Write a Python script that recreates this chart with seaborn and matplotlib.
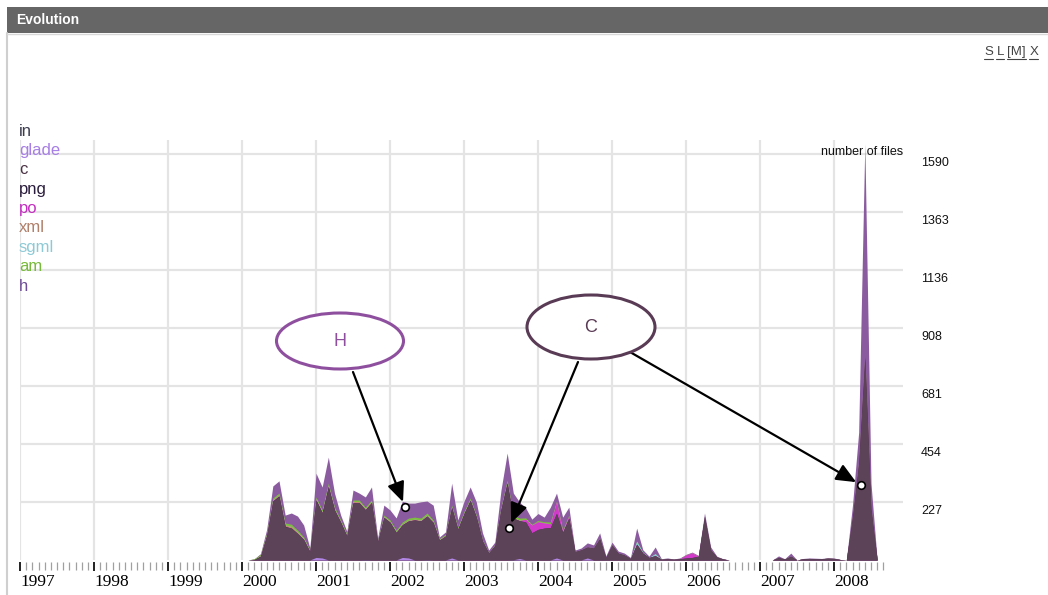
import numpy as np
import matplotlib
matplotlib.use("Agg")
import matplotlib.pyplot as plt
import seaborn as sns
from matplotlib.patches import Ellipse, Rectangle
from matplotlib.lines import Line2D

# ---------------------------------------------------------------
# Monthly number of files touched, by extension (Jan 2000 .. Aug 2008)
# ---------------------------------------------------------------
start_year = 2000

in_files = [
    0, 0, 0, 0, 0, 0, 0, 0, 0, 0, 0, 0,          # 2000
    0, 0, 0, 0, 0, 0, 0, 0, 1, 0, 0, 0,          # 2001
    0, 0, 0, 0, 0, 0, 1, 0, 0, 0, 0, 0,          # 2002
    0, 0, 0, 0, 0, 0, 0, 0, 1, 0, 0, 0,          # 2003
    0, 0, 0, 0, 0, 0, 0, 0, 0, 0, 0, 0,          # 2004
    0, 0, 0, 0, 0, 0, 0, 0, 0, 0, 0, 0,          # 2005
    0, 0, 0, 0, 0, 0, 0, 0, 0, 0, 0, 0,          # 2006
    0, 0, 0, 0, 0, 0, 0, 0, 0, 0, 0, 0,          # 2007
    0, 0, 0, 0, 0, 0, 0, 0,                      # 2008
]
glade_files = [
    0, 0, 0, 0, 0, 0, 0, 0, 0, 0, 0, 0,
    10, 8, 0, 0, 0, 0, 0, 0, 0, 0, 0, 0,
    0, 0, 10, 8, 0, 0, 0, 0, 0, 0, 8, 0,
    0, 0, 0, 0, 0, 0, 0, 0, 0, 6, 0, 0,
    0, 0, 0, 8, 0, 0, 0, 0, 8, 0, 0, 0,
    0, 0, 0, 0, 0, 0, 0, 0, 0, 0, 0, 0,
    0, 0, 0, 0, 0, 0, 0, 0, 0, 0, 0, 0,
    0, 0, 0, 0, 0, 0, 0, 0, 0, 0, 0, 0,
    0, 0, 0, 0, 0, 0, 0, 0,
]
c_files = [
    0, 0, 2, 15, 96, 230, 249, 130, 125, 104, 80, 33,
    223, 177, 286, 196, 148, 94, 224, 224, 196, 225, 72, 167,
    148, 108, 128, 145, 157, 153, 171, 147, 78, 94, 198, 121,
    182, 234, 168, 74, 28, 57, 199, 300, 163, 148, 149, 107,
    120, 125, 127, 175, 108, 164, 33, 40, 43, 47, 84, 10,
    59, 27, 20, 6, 62, 27, 10, 17, 3, 5, 3, 5,
    8, 10, 15, 170, 40, 12, 4, 0, 0, 0, 0, 0,
    0, 0, 0, 10, 4, 15, 0, 5, 6, 5, 5, 7,
    6, 2, 0, 170, 380, 800, 200, 0,
]
png_files = [
    0, 0, 0, 0, 0, 2, 2, 2, 0, 0, 0, 0,
    3, 0, 3, 0, 0, 0, 0, 0, 0, 0, 0, 0,
    0, 0, 0, 0, 0, 0, 0, 0, 0, 0, 0, 0,
    0, 0, 0, 0, 0, 0, 0, 3, 0, 0, 0, 0,
    0, 0, 0, 0, 0, 0, 0, 0, 0, 0, 0, 0,
    0, 0, 0, 0, 0, 0, 0, 0, 0, 0, 0, 0,
    0, 0, 0, 0, 0, 0, 0, 0, 0, 0, 0, 0,
    0, 0, 0, 0, 0, 0, 0, 0, 0, 0, 0, 0,
    0, 0, 0, 0, 0, 0, 0, 0,
]
po_files = [
    0, 0, 0, 0, 0, 0, 0, 0, 0, 0, 0, 0,
    0, 0, 0, 0, 0, 0, 0, 0, 0, 0, 0, 0,
    0, 0, 0, 0, 0, 0, 0, 0, 0, 0, 0, 0,
    0, 0, 0, 0, 0, 0, 0, 0, 0, 0, 10, 30,
    30, 20, 15, 45, 3, 8, 0, 0, 0, 0, 0, 0,
    0, 0, 0, 0, 0, 0, 0, 0, 0, 0, 0, 0,
    12, 18, 0, 0, 0, 0, 0, 0, 0, 0, 0, 0,
    0, 0, 0, 0, 0, 0, 0, 0, 0, 0, 0, 0,
    0, 0, 0, 0, 0, 0, 0, 0,
]
xml_files = [
    0, 0, 0, 2, 3, 4, 4, 5, 6, 5, 4, 2,
    4, 4, 4, 4, 3, 3, 5, 5, 4, 4, 2, 3,
    3, 3, 3, 3, 3, 3, 4, 3, 2, 2, 2, 2,
    2, 2, 2, 0, 0, 0, 2, 2, 2, 2, 0, 0,
    0, 0, 0, 0, 0, 0, 0, 0, 0, 0, 0, 0,
    0, 0, 0, 0, 0, 0, 0, 0, 0, 0, 0, 0,
    0, 0, 0, 0, 0, 0, 0, 0, 0, 0, 0, 0,
    0, 0, 0, 0, 0, 0, 0, 0, 0, 0, 0, 0,
    0, 0, 0, 0, 0, 0, 0, 0,
]
sgml_files = [
    0, 0, 0, 0, 0, 0, 0, 0, 0, 0, 0, 0,
    0, 0, 0, 0, 0, 0, 0, 0, 0, 0, 0, 0,
    0, 0, 0, 0, 0, 0, 0, 0, 0, 0, 0, 0,
    0, 0, 0, 0, 0, 0, 0, 0, 0, 0, 0, 0,
    0, 0, 0, 0, 0, 0, 0, 0, 0, 0, 0, 0,
    0, 0, 0, 0, 12, 3, 0, 8, 0, 0, 0, 0,
    0, 0, 0, 0, 0, 0, 0, 0, 0, 0, 0, 0,
    0, 0, 0, 0, 0, 0, 0, 0, 0, 0, 0, 0,
    0, 0, 0, 0, 0, 0, 0, 0,
]
am_files = [
    0, 0, 3, 5, 6, 7, 7, 8, 9, 8, 6, 4,
    7, 7, 8, 7, 6, 5, 6, 6, 6, 6, 4, 6,
    6, 6, 8, 8, 8, 8, 8, 7, 4, 4, 7, 6,
    6, 7, 6, 4, 2, 3, 6, 8, 10, 8, 6, 3,
    5, 5, 7, 2, 6, 4, 0, 0, 0, 0, 2, 0,
    0, 0, 0, 0, 0, 0, 0, 0, 0, 0, 0, 0,
    0, 0, 0, 0, 0, 0, 0, 0, 0, 0, 0, 0,
    0, 0, 0, 0, 0, 0, 0, 0, 0, 0, 0, 0,
    0, 0, 0, 0, 0, 0, 0, 0,
]
h_files = [
    0, 0, 0, 3, 15, 47, 48, 31, 44, 55, 47, 8,
    93, 90, 102, 55, 19, 10, 39, 27, 40, 51, 8, 39,
    39, 48, 81, 59, 55, 64, 47, 58, 6, 10, 86, 28,
    40, 43, 51, 28, 9, 10, 67, 106, 86, 63, 39, 20,
    27, 18, 58, 32, 51, 31, 6, 7, 16, 12, 20, 6,
    11, 8, 7, 4, 51, 10, 5, 26, 2, 3, 1, 3,
    2, 3, 3, 14, 11, 3, 1, 0, 0, 0, 0, 0,
    0, 0, 0, 6, 1, 12, 0, 1, 2, 2, 1, 2,
    2, 0, 0, 45, 120, 830, 100, 0,
]

series_names = ["in", "glade", "c", "png", "po", "xml", "sgml", "am", "h"]
series_values = [in_files, glade_files, c_files, png_files, po_files,
                 xml_files, sgml_files, am_files, h_files]

year_ticks = list(range(1997, 2009))
value_ticks = [227, 454, 681, 908, 1136, 1363, 1590]

# ---------------------------------------------------------------
# Style
# ---------------------------------------------------------------
sns.set_theme(style="white")
plt.rcParams["font.family"] = ["Liberation Sans", "DejaVu Sans"]

fill_colors = sns.color_palette([
    "#3c3c50", "#b186e6", "#5d4358", "#3a2a4a", "#d23acb",
    "#c08a70", "#8ccbd6", "#7cbf3f", "#8b5b9f",
])
label_colors = [
    "#3c3c50", "#a77ee6", "#4a3243", "#2b1d3d", "#c42fc0",
    "#b0806b", "#8ecad5", "#77b93a", "#6e4c98",
]

W, H = 1048, 595
fig = plt.figure(figsize=(W / 100, H / 100), dpi=100)
fig.patch.set_facecolor("white")


def fx(px):
    return px / W


def fy(py):
    return 1 - py / H


# panel frame and title bar
fig.add_artist(Line2D([fx(7), fx(7)], [fy(33), 0], color="#cfcfcf", lw=1.5))
fig.add_artist(Rectangle((fx(7), fy(33)), (W - 7) / W, 26 / H,
                         transform=fig.transFigure, facecolor="#666666",
                         edgecolor="none"))
fig.add_artist(Line2D([fx(7), 1], [fy(34), fy(34)], color="#d8d8d8", lw=1))
fig.text(fx(16), fy(20), "Evolution", color="white", fontweight="bold",
         fontsize=10, va="center", ha="left")

# size links in the corner, each one underlined
fig.canvas.draw()
renderer = fig.canvas.get_renderer()
xpos = 984
for word in ["S", "L", "[M]", "X"]:
    t = fig.text(fx(xpos), fy(52), word, fontsize=9.5, color="#444444",
                 va="center", ha="left")
    bb = t.get_window_extent(renderer)
    fig.add_artist(Line2D([bb.x0 / W, bb.x1 / W], [(bb.y0 - 0.5) / H] * 2,
                          color="#444444", lw=0.8))
    xpos = bb.x1 + 3.5

# ---------------------------------------------------------------
# Stacked area chart
# ---------------------------------------------------------------
left_px, right_px, top_px, base_px = 20, 903, 140, 560
ax = fig.add_axes([fx(left_px), fy(base_px), (right_px - left_px) / W,
                   (base_px - top_px) / H])
ax.set_facecolor("none")

x = start_year + np.arange(len(h_files)) / 12.0
tops = np.cumsum(np.array(series_values, dtype=float), axis=0)
# draw from the top layer down so the layers never leave seams
for i in range(len(series_names) - 1, -1, -1):
    ax.fill_between(x, 0, tops[i], color=fill_colors[i], linewidth=0,
                    zorder=2)

ax.set_xlim(1997, 1997 + (right_px - left_px) / 74.0)
ax.set_ylim(0, 1645)

ax.set_yticks(value_ticks)
ax.tick_params(axis="y", length=0, labelleft=False)
ax.set_axisbelow(True)
ax.grid(axis="y", color="#e4e4e4", lw=1.6)
ax.grid(axis="x", which="major", color="#e4e4e4", lw=1.6)
for s in ax.spines.values():
    s.set_visible(False)
ax.spines["bottom"].set_position(("outward", 1.5))

ax.set_xticks(year_ticks)
ax.set_xticklabels([str(y) for y in year_ticks], fontfamily="Liberation Serif",
                   fontsize=12.5, color="black", ha="left")
ax.set_xticks(1997 + np.arange(0, 141) / 12.0, minor=True)
ax.tick_params(axis="x", which="major", length=6.5, width=1.4, color="#222222",
               pad=2, bottom=True)
ax.tick_params(axis="x", which="minor", length=6, width=0.9, color="#a0a0a0",
               bottom=True)

# value labels on the right
for v in value_ticks:
    ax.annotate(f"{v}", xy=(1, v), xycoords=("axes fraction", "data"),
                xytext=(18, -9), textcoords="offset pixels", ha="left",
                va="center", fontsize=9, color="#111111", annotation_clip=False)
ax.annotate("number of files", xy=(1, 1590), xycoords=("axes fraction", "data"),
            xytext=(0, 2), textcoords="offset pixels", ha="right", va="center",
            fontsize=9, color="#111111", zorder=6, annotation_clip=False)

# legend as coloured words
for i, (name, col) in enumerate(zip(series_names, label_colors)):
    fig.text(fx(19), fy(131 + i * 19.4), name, color=col, fontsize=12,
             va="center", ha="left")

# ---------------------------------------------------------------
# Call-outs
# ---------------------------------------------------------------
def callout(cx, cy, w, h, letter, color):
    fig.add_artist(Ellipse((fx(cx), fy(cy)), w / W, h / H,
                           transform=fig.transFigure, facecolor="white",
                           edgecolor=color, lw=2.2, zorder=5))
    fig.text(fx(cx), fy(cy), letter, color=color, fontsize=13,
             ha="center", va="center", zorder=6)


callout(340, 341, 127, 56, "H", "#8e4f9f")
callout(591, 327, 128, 64, "C", "#5a3b55")

targets = [((2002.203, 207), (353, 372)),
           ((2003.608, 125), (578, 362)),
           ((2008.365, 294), (630, 352))]
for (tx, ty), (sx, sy) in targets:
    ax.annotate("", xy=(tx, ty), xycoords="data",
                xytext=(fx(sx), fy(sy)), textcoords="figure fraction",
                arrowprops=dict(arrowstyle="-|>,head_length=0.8,head_width=0.35",
                                color="black", lw=1.6, shrinkA=0, shrinkB=4,
                                mutation_scale=15),
                zorder=7, annotation_clip=False)
ax.scatter([t[0][0] for t in targets], [t[0][1] for t in targets], s=30,
           facecolor="white", edgecolor="black", linewidth=1.2, zorder=8,
           clip_on=False)

fig.savefig("out.png", dpi=100, facecolor="white")
